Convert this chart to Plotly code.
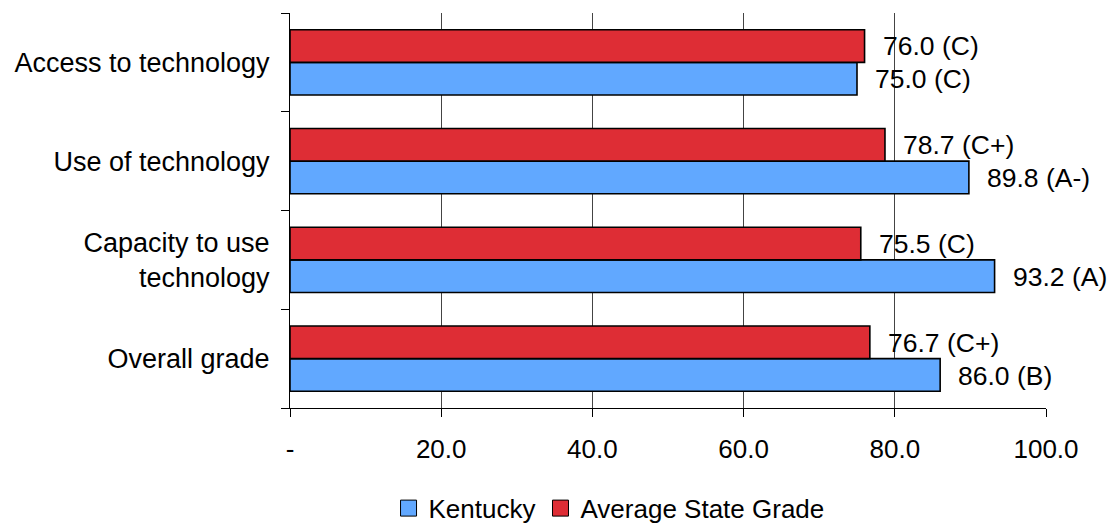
import plotly.graph_objects as go

# Technology grades by category (listed top to bottom)
categories = ["Access to technology", "Use of technology",
              "Capacity to use<br>technology", "Overall grade"]
kentucky = [75.0, 89.8, 93.2, 86.0]
kentucky_grades = ["C", "A-", "A", "B"]
average = [76.0, 78.7, 75.5, 76.7]
average_grades = ["C", "C+", "C", "C+"]

tick_vals = [0, 20, 40, 60, 80, 100]
tick_text = ["-", "20.0", "40.0", "60.0", "80.0", "100.0"]

BLUE = "#61A8FF"
RED = "#DE2D35"
FONT = "Liberation Sans, Arial, sans-serif"

fig = go.Figure()

fig.add_trace(go.Bar(
    y=categories, x=kentucky, orientation="h", name="Kentucky",
    marker=dict(color=BLUE, line=dict(color="black", width=1.6)),
    showlegend=False,
))
fig.add_trace(go.Bar(
    y=categories, x=average, orientation="h", name="Average State Grade",
    marker=dict(color=RED, line=dict(color="black", width=1.6)),
    showlegend=False,
))

# Legend entries with larger square swatches
for name, color in [("Kentucky", BLUE), ("Average State Grade", RED)]:
    fig.add_trace(go.Scatter(
        x=[None], y=[None], mode="markers", name=name,
        marker=dict(symbol="square", size=18, color=color,
                    line=dict(color="black", width=1)),
        showlegend=True,
    ))

# Value labels to the right of each bar
annotations = []
for cat, v, g in zip(categories, kentucky, kentucky_grades):
    annotations.append(dict(x=v, y=cat, xref="x", yref="y",
                            text=f"{v:.1f} ({g})", showarrow=False,
                            xanchor="left", yanchor="middle",
                            xshift=16, yshift=-17,
                            font=dict(size=26.5, color="black", family=FONT)))
for cat, v, g in zip(categories, average, average_grades):
    annotations.append(dict(x=v, y=cat, xref="x", yref="y",
                            text=f"{v:.1f} ({g})", showarrow=False,
                            xanchor="left", yanchor="middle",
                            xshift=16, yshift=16,
                            font=dict(size=26.5, color="black", family=FONT)))

fig.update_layout(
    width=1112, height=525,
    margin=dict(l=290, r=66, t=13, b=117, autoexpand=False),
    paper_bgcolor="white", plot_bgcolor="white",
    font=dict(family=FONT, size=26, color="black"),
    barmode="group", bargap=0.34, bargroupgap=0,
    annotations=annotations,
    legend=dict(orientation="h", x=0.422, xref="paper",
                y=0.032, yref="container",
                xanchor="center", yanchor="middle",
                font=dict(size=26), bgcolor="rgba(0,0,0,0)"),
    xaxis=dict(
        range=[0, 100], tickvals=tick_vals, ticktext=tick_text,
        showgrid=True, gridcolor="#444", gridwidth=1,
        showline=True, linecolor="black", linewidth=1,
        ticks="outside", ticklen=8, tickcolor="black",
        ticklabelstandoff=10, zeroline=False, automargin=False,
        tickfont=dict(size=26),
    ),
    yaxis=dict(
        categoryorder="array", categoryarray=list(reversed(categories)),
        showline=True, linecolor="black", linewidth=1,
        ticks="outside", ticklen=8, tickcolor="black",
        tickson="boundaries", showgrid=False, automargin=False,
        ticklabelstandoff=14, tickfont=dict(size=27),
    ),
)

fig.write_html("out.html")
